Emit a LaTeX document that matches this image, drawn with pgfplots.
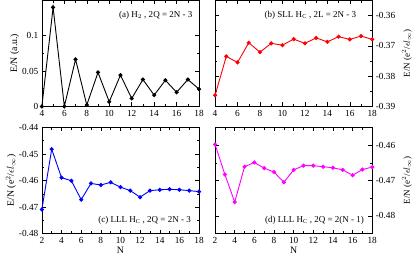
\documentclass[border=0pt]{standalone}
\usepackage{pgfplots}
\pgfplotsset{compat=1.18}
\usepackage{fontspec}
\setmainfont{Liberation Serif}
\definecolor{pmag}{RGB}{255,0,255}
\definecolor{pred}{RGB}{255,0,0}
\definecolor{pblue}{RGB}{0,0,255}
\begin{document}
\pgfplotsset{
  every axis/.append style={
    scale only axis, width=157pt, height=106pt,
    tick align=inside, tick style={black, line width=0.5pt},
    major tick length=4pt, minor tick length=2.2pt,
    minor x tick num=1, minor y tick num=1,
    xtick pos=both, ytick pos=both,
    axis line style={line width=0.6pt},
    font=\fontsize{9}{10}\selectfont,
    tick label style={font=\fontsize{9.3}{10}\selectfont},
    label style={font=\fontsize{9.8}{10}\selectfont},
    /pgf/number format/assume math mode=true,
    scaled y ticks=false,
    xlabel style={yshift=3pt},
  },
  every axis plot/.append style={line width=0.9pt, mark=*, mark size=1.6pt},
}
\begin{tikzpicture}
% (a)
\begin{axis}[at={(42pt,-108pt)}, anchor=south west,
  xmin=4, xmax=18, ymin=0, ymax=0.15,
  xtick={4,6,...,18}, ytick={0,0.05,0.1},
  yticklabels={0,0.05,0.1},
  ylabel={E/N (a.u.)}, ylabel style={yshift=-4pt},
  clip=false]
\addplot[black, mark options={fill=black}] coordinates {
(4,0) (5,0.140) (6,0) (7,0.0665) (8,0.002) (9,0.048) (10,0.0066) (11,0.0443)
(12,0.0113) (13,0.038) (14,0.016) (15,0.037) (16,0.020) (17,0.038) (18,0.0245)};
\node[anchor=north east] at (rel axis cs:0.98,0.93) {(a) H$_{2}$ , 2Q = 2N - 3};
\end{axis}
% (b)
\begin{axis}[at={(215pt,-108pt)}, anchor=south west,
  xmin=4, xmax=18, ymin=-0.39, ymax=-0.355,
  xtick={4,6,...,18}, ytick={-0.39,-0.38,-0.37,-0.36},
  yticklabels={-0.39,-0.38,-0.37,-0.36},
  yticklabel pos=right, ylabel near ticks,
  ylabel={E/N (e$^2$/$\epsilon l_\infty$)},
  clip=false]
\addplot[pred, mark options={fill=pred}] coordinates {
(4,-0.3863) (5,-0.3735) (6,-0.3755) (7,-0.3690) (8,-0.3721) (9,-0.3692) (10,-0.3698)
(11,-0.3678) (12,-0.3692) (13,-0.3674) (14,-0.3687) (15,-0.3670) (16,-0.3679)
(17,-0.3668) (18,-0.3679)};
\node[anchor=north east] at (rel axis cs:0.92,0.93) {(b) SLL H$_{\mathrm{C}}$ , 2L = 2N - 3};
\end{axis}
% (c)
\begin{axis}[at={(42pt,-235pt)}, anchor=south west,
  xmin=2, xmax=18, ymin=-0.48, ymax=-0.44,
  xtick={2,4,...,18}, ytick={-0.48,-0.47,-0.46,-0.45,-0.44},
  yticklabels={-0.48,-0.47,-0.46,-0.45,-0.44},
  xlabel={N}, ylabel={E/N (e$^2$/$\epsilon l_\infty$)}, ylabel style={yshift=-4pt},
  clip=false]
\addplot[pblue, mark options={fill=pblue}] coordinates {
(2,-0.4709) (3,-0.4482) (4,-0.4589) (5,-0.4601) (6,-0.4672) (7,-0.4611) (8,-0.4617)
(9,-0.4607) (10,-0.4625) (11,-0.4638) (12,-0.4663) (13,-0.4638) (14,-0.4635)
(15,-0.4633) (16,-0.4635) (17,-0.4638) (18,-0.4642)};
\node[anchor=south east] at (rel axis cs:0.97,0.05) {(c) LLL H$_{\mathrm{C}}$ , 2Q = 2N - 3};
\end{axis}
% (d)
\begin{axis}[at={(215pt,-235pt)}, anchor=south west,
  xmin=2, xmax=18, ymin=-0.485, ymax=-0.455,
  xtick={2,4,...,18}, ytick={-0.48,-0.47,-0.46},
  yticklabels={-0.48,-0.47,-0.46},
  yticklabel pos=right, ylabel near ticks,
  xlabel={N}, ylabel={E/N (e$^2$/$\epsilon l_\infty$)},
  clip=false]
\addplot[pmag, mark options={fill=pmag}] coordinates {
(2,-0.4598) (3,-0.4683) (4,-0.4761) (5,-0.4661) (6,-0.4649) (7,-0.4665) (8,-0.4676)
(9,-0.4705) (10,-0.4670) (11,-0.4658) (12,-0.4658) (13,-0.4661) (14,-0.4664)
(15,-0.4670) (16,-0.4685) (17,-0.4669) (18,-0.4662)};
\node[anchor=south east] at (rel axis cs:0.97,0.05) {(d) LLL H$_{\mathrm{C}}$ , 2Q = 2(N - 1)};
\end{axis}
\end{tikzpicture}
\end{document}
